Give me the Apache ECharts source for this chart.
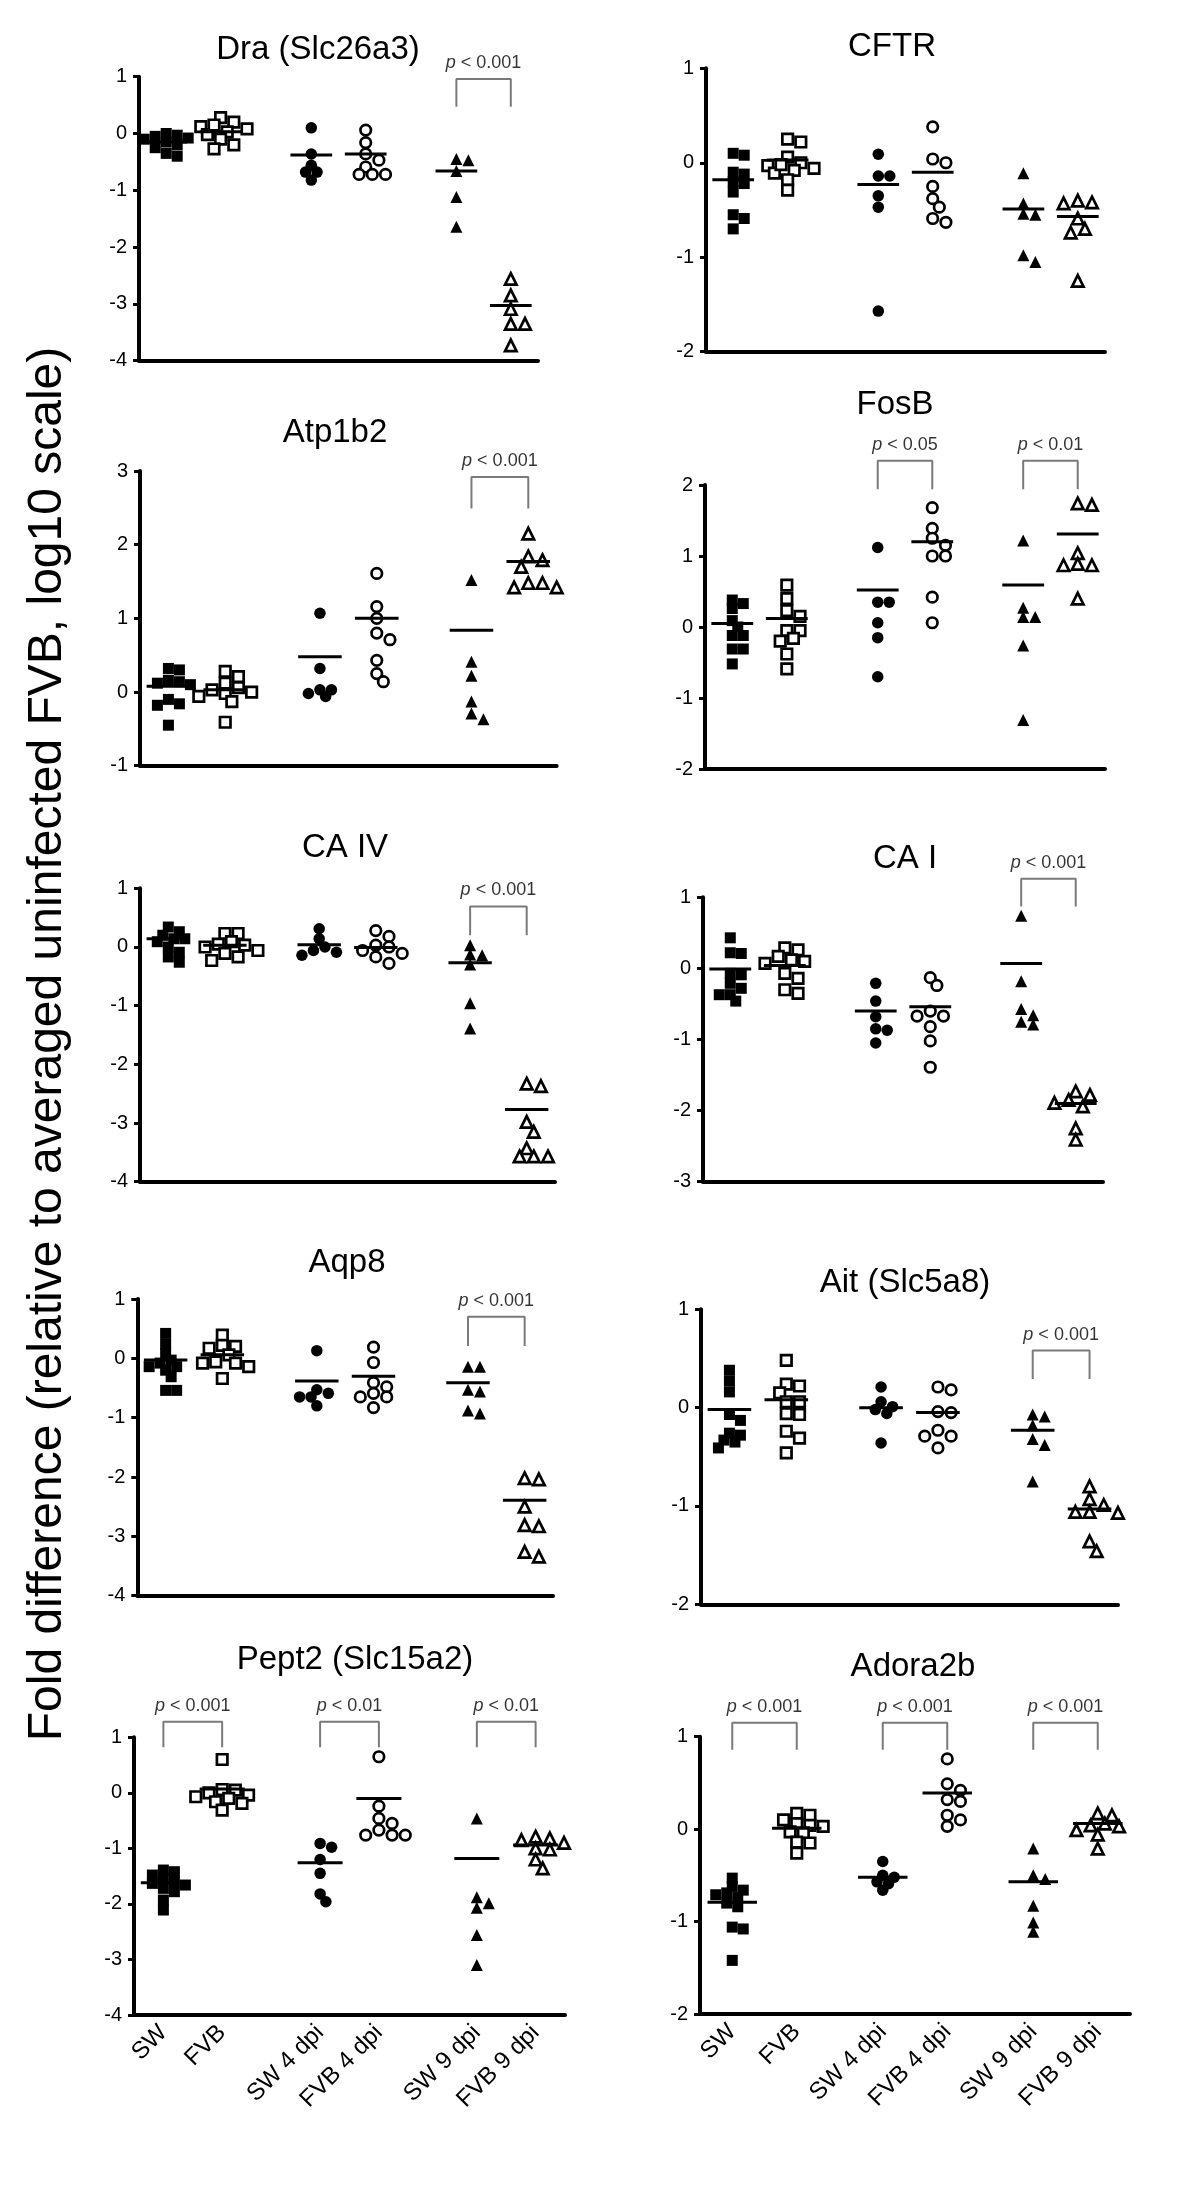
<!DOCTYPE html>
<html><head><meta charset="utf-8">
<script src="https://cdn.jsdelivr.net/npm/echarts@6/dist/echarts.min.js"></script>
<style>html,body{margin:0;padding:0;background:#fff}#c{width:1200px;height:2188px}</style>
</head><body><div id="c"></div>
<script>
const groups = ['SW', 'FVB', 'SW 4 dpi', 'FVB 4 dpi', 'SW 9 dpi', 'FVB 9 dpi'];
const panelTitles = ['Dra (Slc26a3)', 'CFTR', 'Atp1b2', 'FosB', 'CA IV', 'CA I', 'Aqp8', 'Ait (Slc5a8)', 'Pept2 (Slc15a2)', 'Adora2b'];
const yLabel = 'Fold difference (relative to averaged uninfected FVB, log10 scale)';
const yMin = [-4, -2, -1, -2, -4, -3, -4, -2, -4, -2];
const yMax = [1, 1, 3, 2, 1, 1, 1, 1, 1, 1];

const dra = [
  [0.0, -0.05, -0.03, -0.1, -0.15, -0.2, -0.25, -0.35, -0.4, -0.08],
  [0.28, 0.2, 0.12, 0.08, 0.03, -0.02, -0.1, -0.2, -0.27, 0.15],
  [0.1, -0.36, -0.56, -0.68, -0.68, -0.82],
  [0.06, -0.16, -0.36, -0.47, -0.59, -0.72, -0.72, -0.72],
  [-0.45, -0.47, -0.66, -1.12, -1.64],
  [-2.56, -2.85, -3.09, -3.35, -3.35, -3.73]];
const draMean = [-0.15, 0.03, -0.38, -0.36, -0.66, -3.03];

const cftr = [
  [0.1, 0.08, -0.1, -0.12, -0.2, -0.22, -0.31, -0.55, -0.59, -0.7],
  [0.25, 0.22, 0.06, 0.0, -0.03, -0.06, -0.08, -0.11, -0.18, -0.29, -0.02],
  [0.09, -0.14, -0.14, -0.35, -0.47, -1.57],
  [0.38, 0.04, 0.0, -0.25, -0.38, -0.47, -0.59, -0.63],
  [-0.11, -0.43, -0.54, -0.55, -0.98, -1.05],
  [-0.4, -0.42, -0.43, -0.5, -0.59, -0.7, -0.74, -1.25]];
const cftrMean = [-0.18, 0.03, -0.23, -0.1, -0.49, -0.57];

const atp1b2 = [
  [0.32, 0.3, 0.16, 0.14, 0.12, 0.1, -0.1, -0.16, -0.18, -0.45],
  [0.28, 0.21, 0.12, 0.06, 0.03, 0.0, -0.02, -0.06, -0.13, -0.41],
  [1.07, 0.32, 0.03, 0.03, -0.02, -0.06],
  [1.61, 1.16, 1.0, 0.8, 0.71, 0.43, 0.25, 0.14],
  [1.52, 0.41, 0.22, -0.13, -0.29, -0.37],
  [2.15, 1.84, 1.79, 1.7, 1.48, 1.48, 1.42, 1.42]];
const atp1b2Mean = [0.08, 0.03, 0.48, 1.0, 0.84, 1.77];

const fosb = [
  [0.38, 0.33, 0.26, 0.09, 0.0, -0.12, -0.12, -0.31, -0.31, -0.52],
  [0.59, 0.4, 0.23, 0.15, -0.05, -0.05, -0.16, -0.2, -0.38, -0.59],
  [1.12, 0.35, 0.35, 0.06, -0.15, -0.7],
  [1.68, 1.39, 1.25, 1.15, 1.0, 1.0, 0.42, 0.06],
  [1.22, 0.27, 0.14, 0.14, -0.26, -1.31],
  [1.74, 1.72, 1.04, 0.89, 0.87, 0.87, 0.85, 0.4]];
const fosbMean = [0.05, 0.12, 0.52, 1.2, 0.59, 1.31];

const ca4 = [
  [0.34, 0.26, 0.2, 0.14, 0.14, 0.09, 0.0, -0.09, -0.17, -0.26],
  [0.23, 0.23, 0.09, 0.05, 0.03, 0.0, -0.06, -0.11, -0.17, -0.23],
  [0.31, 0.14, 0.0, -0.06, -0.09, -0.14],
  [0.28, 0.18, 0.03, 0.0, -0.06, -0.11, -0.17, -0.28],
  [0.03, -0.13, -0.14, -0.3, -0.96, -1.39],
  [-2.33, -2.37, -2.98, -3.15, -3.43, -3.57, -3.57, -3.57]];
const ca4Mean = [0.14, 0.03, 0.04, -0.01, -0.27, -2.77];

const ca1 = [
  [0.43, 0.22, 0.21, -0.07, -0.09, -0.21, -0.28, -0.37, -0.37, -0.46],
  [0.29, 0.26, 0.17, 0.12, 0.1, 0.07, -0.07, -0.14, -0.3, -0.35],
  [-0.21, -0.46, -0.68, -0.85, -0.87, -1.05],
  [-0.13, -0.24, -0.6, -0.67, -0.67, -0.82, -1.02, -1.39],
  [0.74, -0.18, -0.57, -0.66, -0.75, -0.79],
  [-1.73, -1.78, -1.85, -1.89, -1.89, -1.94, -2.25, -2.41]];
const ca1Mean = [-0.01, 0.04, -0.6, -0.54, 0.07, -1.9];

const aqp8 = [
  [0.42, 0.24, 0.08, -0.03, -0.08, -0.14, -0.14, -0.2, -0.31, -0.54, -0.54],
  [0.39, 0.22, 0.2, 0.17, 0.06, -0.06, -0.08, -0.08, -0.14, -0.34],
  [0.13, -0.53, -0.59, -0.65, -0.65, -0.8],
  [0.19, -0.07, -0.41, -0.48, -0.59, -0.65, -0.65, -0.83],
  [-0.14, -0.14, -0.53, -0.56, -0.88, -0.93],
  [-2.02, -2.04, -2.5, -2.81, -2.83, -3.26, -3.34]];
const aqp8Mean = [-0.03, 0.06, -0.38, -0.3, -0.41, -2.39];

const ait = [
  [0.38, 0.27, 0.16, -0.07, -0.13, -0.26, -0.28, -0.33, -0.35, -0.41],
  [0.48, 0.24, 0.22, 0.15, 0.06, 0.06, -0.06, -0.07, -0.24, -0.31, -0.46],
  [0.21, 0.06, 0.01, -0.02, -0.06, -0.36],
  [0.21, 0.18, -0.04, -0.05, -0.23, -0.29, -0.29, -0.41],
  [-0.07, -0.09, -0.18, -0.32, -0.38, -0.75],
  [-0.8, -0.93, -0.99, -1.06, -1.06, -1.07, -1.36, -1.46]];
const aitMean = [-0.02, 0.08, 0.0, -0.05, -0.23, -1.03];

const pept2 = [
  [-1.39, -1.42, -1.48, -1.54, -1.6, -1.63, -1.66, -1.72, -1.78, -1.93, -2.11],
  [0.6, 0.06, 0.05, 0.0, -0.04, -0.07, -0.1, -0.16, -0.19, -0.31],
  [-0.91, -0.98, -1.2, -1.45, -1.82, -1.96],
  [0.65, -0.24, -0.46, -0.55, -0.67, -0.76, -0.76, -0.76],
  [-0.46, -1.88, -1.99, -2.07, -2.56, -3.1],
  [-0.79, -0.82, -0.85, -0.9, -1.0, -1.02, -1.2, -1.36]];
const pept2Mean = [-1.62, 0.07, -1.26, -0.1, -1.18, -0.94];

const adora2b = [
  [-0.53, -0.62, -0.66, -0.69, -0.71, -0.74, -0.8, -0.84, -1.06, -1.08, -1.42],
  [0.17, 0.15, 0.1, 0.06, 0.04, 0.03, -0.03, -0.04, -0.14, -0.15, -0.26],
  [-0.35, -0.5, -0.52, -0.57, -0.59, -0.66],
  [0.76, 0.49, 0.42, 0.32, 0.3, 0.15, 0.1, 0.03],
  [-0.21, -0.5, -0.54, -0.83, -1.01, -1.11],
  [0.17, 0.15, 0.06, 0.04, 0.03, -0.01, -0.06, -0.21]];
const adora2bMean = [-0.79, 0.01, -0.52, 0.39, -0.57, 0.06];

const pTests = [
  [[4, 5, '< 0.001']],
  [],
  [[4, 5, '< 0.001']],
  [[2, 3, '< 0.05'], [4, 5, '< 0.01']],
  [[4, 5, '< 0.001']],
  [[4, 5, '< 0.001']],
  [[4, 5, '< 0.001']],
  [[4, 5, '< 0.001']],
  [[0, 1, '< 0.001'], [2, 3, '< 0.01'], [4, 5, '< 0.01']],
  [[0, 1, '< 0.001'], [2, 3, '< 0.001'], [4, 5, '< 0.001']]
];

const panelValues = [dra, cftr, atp1b2, fosb, ca4, ca1, aqp8, ait, pept2, adora2b];
const panelMeans = [draMean, cftrMean, atp1b2Mean, fosbMean, ca4Mean, ca1Mean, aqp8Mean, aitMean, pept2Mean, adora2bMean];

// ---- layout (pixels / slot positions) ----
const AT22 = [1, 4, 9, 12, 17, 20];
const AT20 = [1, 4, 8, 11, 15, 18];
const layout = [
  {grid: [139, 76.7, 399, 284], slots: 22, at: AT22, title: [318, 50], br: [0.96, 0.47]},
  {grid: [706, 68.3, 399, 283.4], slots: 22, at: AT22, title: [892, 47], br: null},
  {grid: [140, 471, 416.7, 294.7], slots: 22, at: AT22, title: [335, 433], br: [2.92, 2.49]},
  {grid: [705, 485, 400, 284], slots: 22, at: AT22, title: [895, 405], br: [2.34, 1.94]},
  {grid: [140, 888.3, 415, 293.4], slots: 22, at: AT22, title: [345, 848], br: [0.69, 0.2]},
  {grid: [703, 897.3, 400, 284.4], slots: 22, at: AT22, title: [905, 859], br: [1.26, 0.87]},
  {grid: [137.3, 1299, 415.7, 296.7], slots: 22, at: AT22, title: [347, 1263], br: [0.7, 0.21]},
  {grid: [701, 1309.3, 417, 295], slots: 22, at: AT22, title: [905, 1283], br: [0.58, 0.29]},
  {grid: [134, 1737.3, 431, 277.7], slots: 22, at: AT22, title: [355, 1660], br: [1.28, 0.82]},
  {grid: [700, 1736.7, 430, 277.3], slots: 20, at: AT20, title: [913, 1667], br: [1.15, 0.86]}
];
const FONT = '"Liberation Sans", Arial, Helvetica, sans-serif';
const markers = [
  {symbol: 'rect', size: 11, fill: '#000', bw: 0},
  {symbol: 'rect', size: 10.5, fill: '#fff', bw: 2.7},
  {symbol: 'circle', size: 11.5, fill: '#000', bw: 0},
  {symbol: 'circle', size: 10.5, fill: '#fff', bw: 2.7},
  {symbol: 'triangle', size: 12, fill: '#000', bw: 0},
  {symbol: 'triangle', size: 11.5, fill: '#fff', bw: 2.7}
];

function swarm(vals, kx, ky, size) {
  const order = vals.map((v, i) => i).sort((a, b) => vals[b] - vals[a]);
  const placed = [], off = new Array(vals.length).fill(0);
  const step = size * 0.5, minD = size * 0.75;
  order.forEach(i => {
    const y = vals[i] * ky;
    for (let k = 0; k < 80; k++) {
      const c = k === 0 ? 0 : (k % 2 === 1 ? 1 : -1) * Math.ceil(k / 2) * step;
      if (placed.every(q => Math.hypot(q[0] - c, q[1] - y) >= minD)) {
        placed.push([c, y]); off[i] = c / kx; break;
      }
    }
  });
  return off;
}

const grid = [], xAxis = [], yAxis = [], series = [], graphic = [];
layout.forEach((L, p) => {
  const [gl, gt, gw, gh] = L.grid;
  grid.push({left: gl, top: gt, width: gw, height: gh});
  const cats = Array.from({length: L.slots}, (_, i) => {
    const k = L.at.indexOf(i); return k >= 0 ? groups[k] : '';
  });
  const fn = (i) => L.at.indexOf(i) >= 0;
  const showLab = p >= 8;
  xAxis.push({
    type: 'category', gridIndex: p, data: cats,
    axisLine: {onZero: false, lineStyle: {color: '#000', width: 4}},
    axisTick: {alignWithLabel: true, interval: fn, length: 9, lineStyle: {color: '#000', width: 3.5}},
    axisLabel: {show: showLab, interval: fn, rotate: 45, fontSize: 24, color: '#000', fontFamily: FONT, margin: 14},
    splitLine: {show: false}
  });
  xAxis.push({type: 'value', gridIndex: p, min: 0, max: L.slots, show: false});
  yAxis.push({
    type: 'value', gridIndex: p, min: yMin[p], max: yMax[p], interval: 1,
    axisLine: {show: true, onZero: false, lineStyle: {color: '#000', width: 4}},
    axisTick: {show: true, length: 6, lineStyle: {color: '#000', width: 3}},
    axisLabel: {fontSize: 20, color: '#000', fontFamily: FONT, margin: 12},
    splitLine: {show: false}
  });
  const xi = 2 * p + 1;
  const kx = gw / L.slots, ky = gh / (yMax[p] - yMin[p]);
  panelValues[p].forEach((vals, g) => {
    const m = markers[g];
    const offs = swarm(vals, kx, ky, m.size + m.bw);
    series.push({
      type: 'scatter', xAxisIndex: xi, yAxisIndex: p, symbol: m.symbol, symbolSize: m.size,
      itemStyle: {color: m.fill, borderColor: '#000', borderWidth: m.bw, opacity: 1},
      data: vals.map((v, i) => [L.at[g] + 0.5 + offs[i], v]), z: 3, silent: true
    });
  });
  series.push({
    type: 'scatter', xAxisIndex: xi, yAxisIndex: p, symbol: 'rect', symbolSize: [2.3 * kx, 3],
    itemStyle: {color: '#000', opacity: 1},
    data: panelMeans[p].map((mv, g) => [L.at[g] + 0.5, mv]), z: 4, silent: true
  });
  pTests[p].forEach(t => {
    const xa = L.at[t[0]] + 0.5, xb = L.at[t[1]] + 0.5;
    series.push({
      type: 'line', xAxisIndex: xi, yAxisIndex: p, symbol: 'none', clip: false, silent: true,
      lineStyle: {color: '#7a7a7a', width: 2}, z: 2,
      data: [[xa, L.br[1]], [xa, L.br[0]], [xb, L.br[0]], [xb, L.br[1]]]
    });
    series.push({
      type: 'scatter', xAxisIndex: xi, yAxisIndex: p, symbolSize: 0, clip: false, silent: true,
      itemStyle: {color: 'transparent'},
      data: [[(xa + xb) / 2, L.br[0]]],
      label: {
        show: true, position: 'top', distance: 7, formatter: '{i|p} ' + t[2],
        fontSize: 18, color: '#000', fontFamily: FONT,
        rich: {i: {fontStyle: 'italic', fontSize: 18, color: '#000', fontFamily: FONT}}
      }
    });
  });
  graphic.push({
    type: 'text', x: L.title[0], y: L.title[1],
    style: {text: panelTitles[p], font: '33px ' + FONT, fill: '#000', align: 'center', verticalAlign: 'middle', textAlign: 'center', textVerticalAlign: 'middle'}
  });
});
graphic.push({
  type: 'text', x: 48, y: 1044, rotation: Math.PI / 2,
  style: {text: yLabel, font: '48px ' + FONT, fill: '#000', align: 'center', verticalAlign: 'middle', textAlign: 'center', textVerticalAlign: 'middle'}
});

const chart = echarts.init(document.getElementById('c'), null, {renderer: 'canvas'});
chart.setOption({
  backgroundColor: '#fff', animation: false,
  grid, xAxis, yAxis, series, graphic
});
</script></body></html>
